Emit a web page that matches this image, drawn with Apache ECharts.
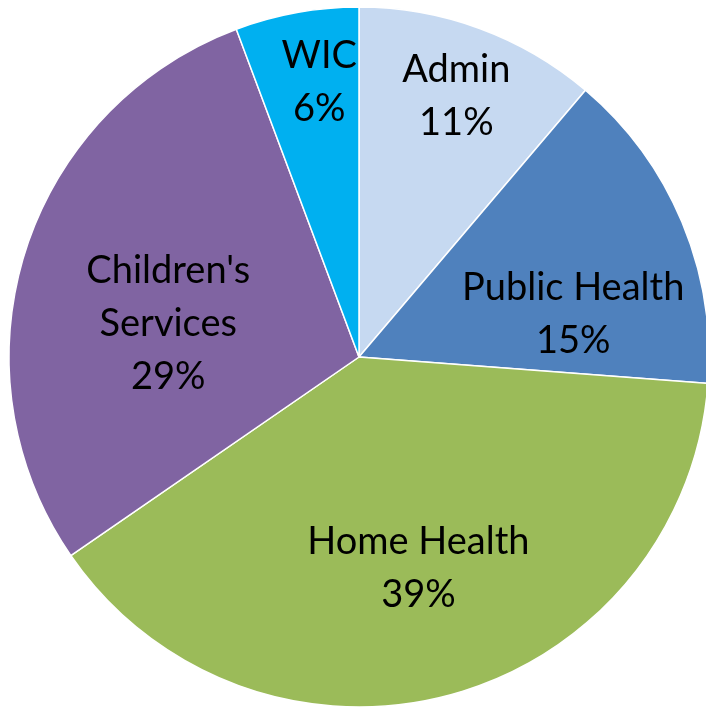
<!DOCTYPE html>
<html>
<head>
<meta charset="utf-8">
<script src="https://cdn.jsdelivr.net/npm/echarts@6/dist/echarts.min.js"></script>
<style>
  html, body { margin: 0; padding: 0; background: #fff; }
  #chart { width: 706px; height: 709px; }
</style>
</head>
<body>
<div id="chart"></div>
<script>
// slices, clockwise from 12 o'clock
var categories = ["Admin", "Public Health", "Home Health", "Children's\nServices", "WIC"];
var shares = [11.2, 15.0, 39.2, 28.9, 5.7];
var colors = ["#C6D9F1", "#4F81BD", "#9BBB59", "#8064A2", "#00B0F0"];

// label nudges from the default inside spot (Excel "best fit" placement)
var labelNudge = [[36, -94], [50, 26], [13, 39], [-21, 20], [-8, -100]];

var chart = echarts.init(document.getElementById("chart"));

var pieData = [];
for (var i = 0; i < categories.length; i++) {
  pieData.push({
    name: categories[i],
    value: shares[i],
    itemStyle: { color: colors[i] },
    label: { offset: labelNudge[i] }
  });
}

chart.setOption({
  animation: false,
  series: [
    {
      type: "pie",
      center: [359, 357],
      radius: [0, 350],
      startAngle: 90,
      clockwise: true,
      percentPrecision: 0,
      avoidLabelOverlap: false,
      data: pieData,
      itemStyle: {
        borderColor: "#ffffff",
        borderWidth: 1.5
      },
      label: {
        position: "inside",
        formatter: "{b}\n{d}%",
        color: "#000",
        fontFamily: "Lato",
        fontSize: 38,
        lineHeight: 53,
        align: "center"
      },
      labelLine: { show: false },
      emphasis: { disabled: true }
    }
  ]
});
</script>
</body>
</html>
